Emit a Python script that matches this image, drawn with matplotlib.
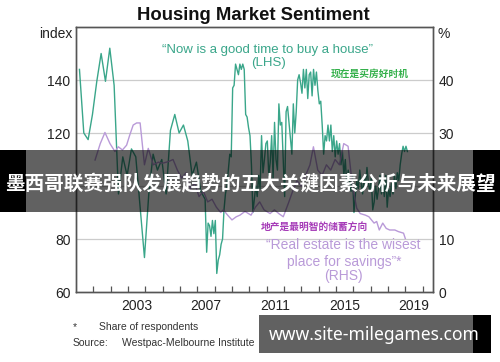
import numpy as np
import matplotlib
matplotlib.use("Agg")
import matplotlib.pyplot as plt
from matplotlib.patches import Rectangle

plt.rcParams['font.family'] = ['Liberation Sans', 'Noto Sans CJK SC', 'DejaVu Sans']

# "Now is a good time to buy a house" index (LHS), quarterly then monthly
buy_q_start = 2000.2
buy_q = [144, 120, 117.5, 127, 139.5, 150, 139.5, 152, 138, 97,
         111, 104, 114, 111, 92, 73, 97, 112, 106, 110,
         97, 121, 127, 120, 123, 117, 104, 109, 98, 95]
buy_m_start = 2007.54
buy_m = [75, 86, 85, 81, 87, 82,
         87, 67, 72, 74, 78, 80, 91, 97, 100, 106, 112, 111,
         137, 138, 146, 144, 142, 146, 144, 146, 144, 127, 126, 122,
         119, 108, 90, 95, 100, 96, 104, 99, 119, 105, 110, 116,
         117, 104, 109, 119, 103, 124, 110, 106, 131, 123, 124, 110,
         96, 128, 130, 124, 118, 112, 131, 120, 128, 140, 142, 139,
         135, 144, 137, 144, 133, 142, 143, 134, 144, 138, 143, 136,
         131, 132, 123, 112, 119, 117, 123, 117, 123, 113, 119, 111,
         117, 112, 116, 108, 113, 104, 110, 100, 106, 102, 98, 104,
         90, 97, 102, 99, 106, 101, 97, 104, 100, 107, 101, 98,
         103, 91, 94, 100, 95, 99, 104, 97, 101, 96, 104, 92,
         99, 96, 101, 97, 104, 99, 105, 102, 108, 112, 115, 113,
         115, 113]

# "Real estate is the wisest place for savings" share (RHS, %)
save_x = [2001.1, 2001.4, 2001.67, 2001.96, 2002.25, 2002.44, 2002.68, 2002.92,
          2003.1, 2003.3, 2003.5, 2003.7, 2003.95, 2004.17, 2004.46, 2004.75,
          2005.0, 2005.33, 2005.6, 2005.85, 2006.1, 2006.35, 2006.6, 2006.85,
          2007.1, 2007.35, 2007.6, 2007.85, 2008.1, 2008.35, 2008.5, 2008.75,
          2009.0, 2009.25, 2009.46, 2009.75, 2010.1, 2010.35, 2010.6, 2010.85,
          2011.2, 2011.45, 2011.7, 2011.96, 2012.25, 2012.5, 2012.75,
          2013.0, 2013.25, 2013.5, 2013.7, 2013.95, 2014.2, 2014.45, 2014.7, 2014.95,
          2015.2, 2015.45, 2015.7, 2015.95, 2016.2, 2016.4, 2016.7, 2016.9,
          2017.2, 2017.35, 2017.5, 2017.7, 2017.9, 2018.1, 2018.4, 2018.6, 2018.9, 2019.0]
save_y = [24.9, 28, 30.1, 28, 26.5, 27.4, 26.8, 27.7,
          29.6, 31.5, 31.9, 31.9, 24, 27.1, 24, 24.5,
          24.3, 24.6, 25, 23, 21.5, 22.5, 19.5, 20.5,
          18, 19, 17, 17.5, 16, 15, 15.5, 14.5,
          13.6, 14.2, 14.5, 15.2, 14.5, 16, 17, 15.5,
          14.8, 15.5, 14.8, 14.2, 16.7, 19, 21,
          20, 22, 24, 27.4, 23, 22, 24, 23, 25,
          24, 28, 27.5, 20, 15.8, 14.8, 14.5, 14.2,
          13, 13.3, 11.7, 13, 12, 11.7, 11.7, 11.4, 11.1, 10.1]

left_ticks = [60, 80, 100, 120, 140]
left_labels = ['60', '80', '', '120', '140']   # 100 sits under the banner
right_ticks = [0, 10, 20, 30, 40]
right_labels = ['0', '10', '', '30', '40']
year_labels = [2003, 2007, 2011, 2015, 2019]

W, H = 500, 362


def px(x, y):
    return x / W, 1 - y / H


green = '#3aa68a'
purple = '#b99ad8'

fig = plt.figure(figsize=(5, 3.62), dpi=100)
ax = fig.add_axes([76 / W, 1 - 292 / H, (433 - 76) / W, (292 - 27) / H])
ax2 = ax.twinx()

buy_x = list(buy_q_start + 0.25 * np.arange(len(buy_q))) + list(buy_m_start + np.arange(len(buy_m)) / 12)
buy_y = buy_q + buy_m
ax.plot(buy_x, buy_y, color=green, lw=1.0, zorder=3)
ax2.plot(save_x, save_y, color=purple, lw=1.0, zorder=2)

ax.set_xlim(2000, 2020.6)
ax.set_ylim(60, 160)
ax2.set_ylim(0, 50)
for y in left_ticks[1:]:
    ax.axhline(y, color='#cccccc', lw=0.9, zorder=1)

ax.set_yticks(left_ticks)
ax.set_yticklabels(left_labels)
ax2.set_yticks(right_ticks)
ax2.set_yticklabels(right_labels)
ax.tick_params(axis='y', length=0, labelsize=10, pad=4, colors='#222222')
ax2.tick_params(axis='y', length=0, labelsize=10, pad=4, colors='#222222')

ax.set_xticks(range(2001, 2021), minor=True)
ax.set_xticks([y + 0.5 for y in year_labels])
ax.set_xticklabels([str(y) for y in year_labels])
ax.tick_params(axis='x', which='major', length=0, labelsize=10, pad=5, colors='#222222')
ax.tick_params(axis='x', which='minor', direction='in', length=4.5, width=0.9, color='#555555')

for a in (ax, ax2):
    for s in a.spines.values():
        s.set_color('#555555')
        s.set_linewidth(1.0)

# titles and axis units
fig.text(*px(253, 15), 'Housing Market Sentiment', ha='center', va='center',
         fontsize=13.3, fontweight='bold', color='#111111')
fig.text(*px(72, 34), 'index', ha='right', va='center', fontsize=10, color='#222222')
fig.text(*px(437, 34), '%', ha='left', va='center', fontsize=10, color='#222222')

# series annotations
fig.text(*px(268, 50), '\u201cNow is a good time to buy a house\u201d', ha='center', va='center',
         fontsize=9.5, color=green)
fig.text(*px(268, 63), '(LHS)', ha='center', va='center', fontsize=9.5, color=green)
fig.text(*px(370, 74), '现在是买房好时机', ha='center', va='center', fontsize=7,
         color='#33b04a', fontweight='bold', family=['Noto Sans CJK SC'])
fig.text(*px(314, 227), '地产是最明智的储蓄方向', ha='center', va='center', fontsize=7,
         color='#a63cb8', fontweight='bold', family=['Noto Sans CJK SC'])
fig.text(*px(343, 245), '\u201cReal estate is the wisest', ha='center', va='center',
         fontsize=10, color=purple)
fig.text(*px(344, 262), 'place for savings\u201d*', ha='center', va='center',
         fontsize=10, color=purple)
fig.text(*px(343, 276), '(RHS)', ha='center', va='center', fontsize=10, color=purple)

# footnotes
fig.text(*px(73, 327), '*', ha='left', va='center', fontsize=7.5, color='#333333')
fig.text(*px(99, 327), 'Share of respondents', ha='left', va='center', fontsize=7.5, color='#333333')
fig.text(*px(73, 343), 'Source:', ha='left', va='center', fontsize=7.5, color='#333333')
fig.text(*px(122, 343), 'Westpac-Melbourne Institute', ha='left', va='center', fontsize=7.5, color='#333333')


# overlay banners
def box(x0, y0, x1, y1, color, alpha):
    fig.add_artist(Rectangle(px(x0, y1), (x1 - x0) / W, (y1 - y0) / H, transform=fig.transFigure,
                             facecolor=color, alpha=alpha, edgecolor='none', zorder=10))


box(0, 150, 26, 212, 'black', 1.0)
box(473, 150, 500, 212, 'black', 1.0)
box(26, 150, 473, 212, 'black', 0.62)
fig.text(*px(250, 184), '墨西哥联赛强队发展趋势的五大关键因素分析与未来展望', ha='center', va='center',
         fontsize=14.1, fontweight='bold', color='white', family=['Noto Sans CJK SC'], zorder=11)

box(259, 315, 473, 353, 'black', 0.62)
box(473, 315, 491, 353, 'black', 1.0)
fig.text(*px(374, 335), 'www.site-milegames.com', ha='center', va='center',
         fontsize=12.6, fontweight='bold', color='white', family=['Noto Sans'], zorder=11)

fig.savefig('out.png', dpi=100)
